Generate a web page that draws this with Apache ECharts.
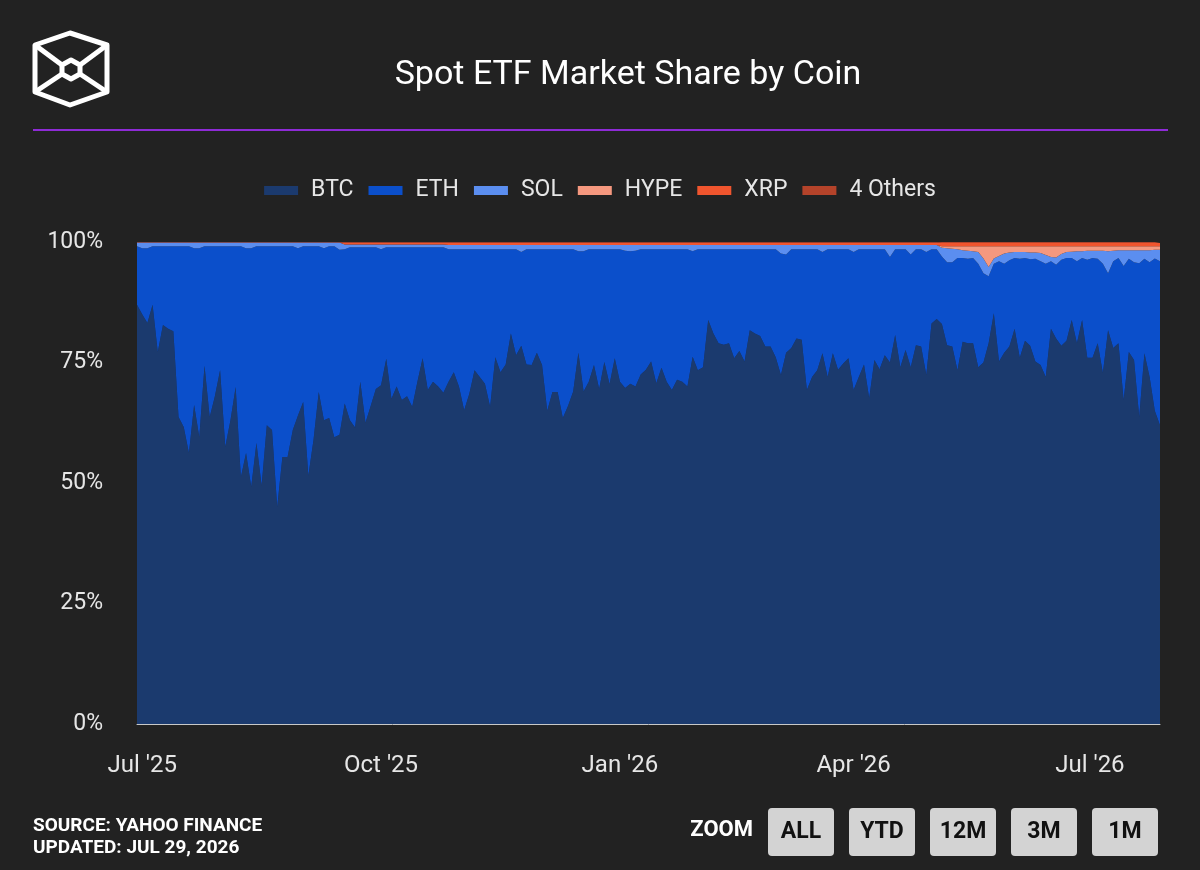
<!DOCTYPE html>
<html>
<head>
<meta charset="utf-8">
<title>Spot ETF Market Share by Coin</title>
<script src="https://cdn.jsdelivr.net/npm/echarts@6/dist/echarts.min.js"></script>
<style>
  html, body { margin: 0; padding: 0; background: #222222; }
  #chart { width: 1200px; height: 870px; }
</style>
</head>
<body>
<div id="chart"></div>
<script>
// one reading every 2 days
const dates = [
  '2025-06-29',
  '2025-07-01','2025-07-03','2025-07-05','2025-07-07','2025-07-09','2025-07-11','2025-07-13','2025-07-15','2025-07-17','2025-07-19','2025-07-21','2025-07-23','2025-07-25','2025-07-27','2025-07-29','2025-07-31',
  '2025-08-02','2025-08-04','2025-08-06','2025-08-08','2025-08-10','2025-08-12','2025-08-14','2025-08-16','2025-08-18','2025-08-20','2025-08-22','2025-08-24','2025-08-26','2025-08-28','2025-08-30',
  '2025-09-01','2025-09-03','2025-09-05','2025-09-07','2025-09-09','2025-09-11','2025-09-13','2025-09-15','2025-09-17','2025-09-19','2025-09-21','2025-09-23','2025-09-25','2025-09-27','2025-09-29',
  '2025-10-01','2025-10-03','2025-10-05','2025-10-07','2025-10-09','2025-10-11','2025-10-13','2025-10-15','2025-10-17','2025-10-19','2025-10-21','2025-10-23','2025-10-25','2025-10-27','2025-10-29','2025-10-31',
  '2025-11-02','2025-11-04','2025-11-06','2025-11-08','2025-11-10','2025-11-12','2025-11-14','2025-11-16','2025-11-18','2025-11-20','2025-11-22','2025-11-24','2025-11-26','2025-11-28','2025-11-30',
  '2025-12-02','2025-12-04','2025-12-06','2025-12-08','2025-12-10','2025-12-12','2025-12-14','2025-12-16','2025-12-18','2025-12-20','2025-12-22','2025-12-24','2025-12-26','2025-12-28','2025-12-30',
  '2026-01-01','2026-01-03','2026-01-05','2026-01-07','2026-01-09','2026-01-11','2026-01-13','2026-01-15','2026-01-17','2026-01-19','2026-01-21','2026-01-23','2026-01-25','2026-01-27','2026-01-29','2026-01-31',
  '2026-02-02','2026-02-04','2026-02-06','2026-02-08','2026-02-10','2026-02-12','2026-02-14','2026-02-16','2026-02-18','2026-02-20','2026-02-22','2026-02-24','2026-02-26','2026-02-28',
  '2026-03-02','2026-03-04','2026-03-06','2026-03-08','2026-03-10','2026-03-12','2026-03-14','2026-03-16','2026-03-18','2026-03-20','2026-03-22','2026-03-24','2026-03-26','2026-03-28','2026-03-30',
  '2026-04-01','2026-04-03','2026-04-05','2026-04-07','2026-04-09','2026-04-11','2026-04-13','2026-04-15','2026-04-17','2026-04-19','2026-04-21','2026-04-23','2026-04-25','2026-04-27','2026-04-29',
  '2026-05-01','2026-05-03','2026-05-05','2026-05-07','2026-05-09','2026-05-11','2026-05-13','2026-05-15','2026-05-17','2026-05-19','2026-05-21','2026-05-23','2026-05-25','2026-05-27','2026-05-29','2026-05-31',
  '2026-06-02','2026-06-04','2026-06-06','2026-06-08','2026-06-10','2026-06-12','2026-06-14','2026-06-16','2026-06-18','2026-06-20','2026-06-22','2026-06-24','2026-06-26','2026-06-28','2026-06-30',
  '2026-07-02','2026-07-04','2026-07-06','2026-07-08','2026-07-10','2026-07-12','2026-07-14','2026-07-16','2026-07-18','2026-07-20','2026-07-22','2026-07-24','2026-07-26','2026-07-28'
]

// market share in %
const btc = [
  87, 85, 83.2, 87, 77.2, 82.8, 82, 81.5, 63.7, 61.6,
  56.2, 66.2, 59.5, 74.3, 63.7, 68, 73.4, 57.5, 63, 69.9,
  51.2, 56.2, 49.2, 58.3, 49.5, 62, 61, 45, 55.4, 55.4,
  61, 64, 66.8, 51.5, 59, 68.9, 63, 63.5, 59.5, 60,
  66.5, 63, 61.5, 71, 62.5, 66, 69.5, 70.3, 75.8, 67.5,
  70, 67.2, 68, 65.8, 71, 75.9, 69.3, 71, 70, 68.7,
  71, 73, 70, 65.1, 68.5, 73.4, 72, 70.6, 65.8, 76.1,
  73, 74.6, 81, 76.5, 78.5, 74.6, 74.5, 77, 74.5, 65,
  68.9, 68.9, 63.5, 66, 69, 77, 69, 71, 74.5, 69.5,
  75.1, 70.5, 75.9, 71, 69.7, 70.6, 70, 72.5, 73.5, 75.2,
  70.7, 73.9, 71, 69.3, 71.4, 71, 70, 76.2, 73.4, 74,
  83.8, 81, 79, 78.7, 79, 75.9, 77.4, 75.2, 81.7, 81,
  80.5, 78.3, 78.3, 76.1, 72.4, 77, 78, 80, 79.7, 69.3,
  72, 73.4, 76.9, 72, 76.9, 73.5, 74.8, 75.9, 69.3, 72,
  74.6, 67.6, 75.5, 73.6, 76.5, 75, 80.7, 74, 77.6, 74,
  78.6, 78.3, 72.4, 83.1, 84, 83, 78.6, 78.3, 73.4, 79.3,
  79, 79, 74, 75, 79, 85.2, 75.2, 77, 78.3, 82,
  76, 79.5, 78.5, 75.2, 74.5, 72, 82, 80, 78.5, 79.5,
  83.8, 79, 83.8, 76, 76, 79, 72.8, 81.7, 78, 79,
  67.2, 77.2, 75.5, 63.7, 76.9, 72, 65, 62
]
const eth = [
  12.1, 13.7, 15.5, 12.1, 21.9, 16.3, 17.1, 17.6, 35.4, 37.5,
  42.9, 32.5, 39.2, 24.8, 35.4, 31.1, 25.7, 41.6, 36.1, 29.2,
  47.9, 42.5, 49.5, 40.8, 49.6, 37.1, 38.1, 54.1, 43.7, 43.7,
  38.1, 34.7, 32.3, 47.6, 40.1, 30.2, 35.7, 35.6, 39.6, 38.4,
  32.0, 35.9, 37.4, 27.9, 36.4, 32.9, 29.4, 28.2, 23.1, 31.4,
  28.9, 31.7, 30.9, 33.1, 27.9, 23.0, 29.6, 27.9, 28.9, 30.2,
  27.5, 25.5, 28.5, 33.4, 30.0, 25.1, 26.5, 27.9, 32.7, 22.4,
  25.5, 23.9, 17.5, 22.0, 19.4, 23.9, 24.0, 21.5, 24.0, 33.5,
  29.6, 29.6, 35.0, 32.5, 29.5, 21.1, 29.1, 27.5, 24.0, 29.0,
  23.4, 28.0, 22.6, 27.5, 28.5, 27.5, 28.2, 26.0, 25.0, 23.3,
  27.8, 24.6, 27.5, 29.2, 27.1, 27.5, 28.5, 21.9, 25.1, 24.5,
  14.7, 17.5, 19.5, 19.8, 19.5, 22.6, 21.1, 23.3, 16.8, 17.5,
  18.0, 20.2, 20.2, 22.4, 25.2, 20.4, 20.5, 18.5, 18.8, 29.2,
  26.5, 25.1, 21.0, 26.5, 21.6, 25.0, 23.7, 22.6, 28.6, 26.5,
  23.9, 30.9, 23.0, 24.9, 22.0, 21.9, 17.8, 24.5, 20.9, 23.4,
  19.9, 20.2, 25.5, 15.4, 14.5, 14.0, 17.2, 17.5, 23.3, 17.4,
  17.5, 17.7, 21.5, 18.5, 13.9, 10.3, 20.8, 18.5, 17.9, 14.7,
  20.5, 17.2, 17.9, 21.3, 21.5, 23.5, 14.0, 15.3, 17.8, 17.2,
  12.9, 17.0, 12.9, 20.3, 20.7, 17.5, 22.7, 11.8, 18.0, 17.7,
  27.8, 19.3, 20.3, 31.9, 19.6, 23.8, 31.6, 34.0
]
const sol = [
  0.8, 1.2, 1.2, 0.8, 0.8, 0.8, 0.8, 0.8, 0.8, 0.8,
  0.8, 1.2, 1.2, 0.8, 0.8, 0.8, 0.8, 0.8, 0.8, 0.8,
  0.8, 1.2, 1.2, 0.8, 0.8, 0.8, 0.8, 0.8, 0.8, 0.8,
  0.8, 1.2, 0.8, 0.8, 0.8, 0.8, 1.2, 0.8, 0.8, 1.5,
  1.0, 0.6, 0.6, 0.6, 0.6, 0.6, 0.6, 1.0, 0.6, 0.6,
  0.6, 0.6, 0.6, 0.6, 0.6, 0.6, 0.6, 0.6, 0.6, 0.6,
  0.9, 0.9, 0.9, 0.9, 0.9, 0.9, 0.9, 0.9, 0.9, 0.9,
  0.9, 0.9, 0.9, 0.9, 1.5, 0.9, 0.9, 0.9, 0.9, 0.9,
  0.9, 0.9, 0.9, 0.9, 0.9, 1.3, 1.3, 0.9, 0.9, 0.9,
  0.9, 0.9, 0.9, 0.9, 1.2, 1.3, 1.2, 0.9, 0.9, 0.9,
  0.9, 0.9, 0.9, 0.9, 0.9, 0.9, 0.9, 1.3, 0.9, 0.9,
  0.9, 0.9, 0.9, 0.9, 0.9, 0.9, 0.9, 0.9, 0.9, 0.9,
  0.9, 0.9, 0.9, 0.9, 1.8, 2.0, 0.9, 0.9, 0.9, 0.9,
  0.9, 0.9, 1.5, 0.9, 0.9, 0.9, 0.9, 0.9, 1.5, 0.9,
  0.9, 0.9, 0.9, 0.9, 0.9, 2.5, 0.9, 0.9, 0.9, 2.0,
  0.9, 0.9, 1.5, 0.9, 0.9, 1.8, 2.9, 2.8, 1.8, 1.6,
  1.7, 1.4, 2.4, 3.1, 1.9, 1.1, 1.1, 2.1, 1.6, 1.2,
  1.4, 1.2, 1.4, 1.3, 1.7, 1.8, 0.9, 1.5, 1.2, 1.2,
  1.3, 2.1, 1.4, 1.9, 1.5, 1.7, 2.7, 4.6, 2.2, 1.6,
  3.3, 1.8, 2.5, 2.7, 1.8, 2.5, 1.8, 2.4
]
const hype = [
  0, 0, 0, 0, 0, 0, 0, 0, 0, 0,
  0, 0, 0, 0, 0, 0, 0, 0, 0, 0,
  0, 0, 0, 0, 0, 0, 0, 0, 0, 0,
  0, 0, 0, 0, 0, 0, 0, 0, 0, 0,
  0, 0, 0, 0, 0, 0, 0, 0, 0, 0,
  0, 0, 0, 0, 0, 0, 0, 0, 0, 0,
  0, 0, 0, 0, 0, 0, 0, 0, 0, 0,
  0, 0, 0, 0, 0, 0, 0, 0, 0, 0,
  0, 0, 0, 0, 0, 0, 0, 0, 0, 0,
  0, 0, 0, 0, 0, 0, 0, 0, 0, 0,
  0, 0, 0, 0, 0, 0, 0, 0, 0, 0,
  0, 0, 0, 0, 0, 0, 0, 0, 0, 0,
  0, 0, 0, 0, 0, 0, 0, 0, 0, 0,
  0, 0, 0, 0, 0, 0, 0, 0, 0, 0,
  0, 0, 0, 0, 0, 0, 0, 0, 0, 0,
  0, 0, 0, 0, 0, 0.3, 0.4, 0.5, 0.6, 0.8,
  0.9, 1.0, 1.2, 2.5, 4.3, 2.5, 2.0, 1.5, 1.3, 1.2,
  1.2, 1.2, 1.3, 1.3, 1.4, 1.8, 2.2, 2.3, 1.6, 1.2,
  1.1, 1.0, 1.0, 0.9, 0.9, 0.9, 0.9, 1.0, 0.9, 0.8,
  0.8, 0.8, 0.8, 0.8, 0.8, 0.8, 0.7, 0.7
]
const xrp = [
  0, 0, 0, 0, 0, 0, 0, 0, 0, 0,
  0, 0, 0, 0, 0, 0, 0, 0, 0, 0,
  0, 0, 0, 0, 0, 0, 0, 0, 0, 0,
  0, 0, 0, 0, 0, 0, 0, 0, 0, 0,
  0.4, 0.4, 0.4, 0.4, 0.4, 0.4, 0.4, 0.4, 0.4, 0.4,
  0.4, 0.4, 0.4, 0.4, 0.4, 0.4, 0.4, 0.4, 0.4, 0.4,
  0.5, 0.5, 0.5, 0.5, 0.5, 0.5, 0.5, 0.5, 0.5, 0.5,
  0.5, 0.5, 0.5, 0.5, 0.5, 0.5, 0.5, 0.5, 0.5, 0.5,
  0.5, 0.5, 0.5, 0.5, 0.5, 0.5, 0.5, 0.5, 0.5, 0.5,
  0.5, 0.5, 0.5, 0.5, 0.5, 0.5, 0.5, 0.5, 0.5, 0.5,
  0.5, 0.5, 0.5, 0.5, 0.5, 0.5, 0.5, 0.5, 0.5, 0.5,
  0.5, 0.5, 0.5, 0.5, 0.5, 0.5, 0.5, 0.5, 0.5, 0.5,
  0.5, 0.5, 0.5, 0.5, 0.5, 0.5, 0.5, 0.5, 0.5, 0.5,
  0.5, 0.5, 0.5, 0.5, 0.5, 0.5, 0.5, 0.5, 0.5, 0.5,
  0.5, 0.5, 0.5, 0.5, 0.5, 0.5, 0.5, 0.5, 0.5, 0.5,
  0.5, 0.5, 0.5, 0.5, 0.5, 0.7, 0.7, 0.7, 0.7, 0.7,
  0.7, 0.7, 0.7, 0.7, 0.7, 0.7, 0.7, 0.7, 0.7, 0.7,
  0.7, 0.7, 0.7, 0.7, 0.7, 0.7, 0.7, 0.7, 0.7, 0.7,
  0.7, 0.7, 0.7, 0.7, 0.7, 0.7, 0.7, 0.7, 0.7, 0.7,
  0.7, 0.7, 0.7, 0.7, 0.7, 0.7, 0.7, 0.7
]
const others = [
  0.1, 0.1, 0.1, 0.1, 0.1, 0.1, 0.1, 0.1, 0.1, 0.1,
  0.1, 0.1, 0.1, 0.1, 0.1, 0.1, 0.1, 0.1, 0.1, 0.1,
  0.1, 0.1, 0.1, 0.1, 0.1, 0.1, 0.1, 0.1, 0.1, 0.1,
  0.1, 0.1, 0.1, 0.1, 0.1, 0.1, 0.1, 0.1, 0.1, 0.1,
  0.1, 0.1, 0.1, 0.1, 0.1, 0.1, 0.1, 0.1, 0.1, 0.1,
  0.1, 0.1, 0.1, 0.1, 0.1, 0.1, 0.1, 0.1, 0.1, 0.1,
  0.1, 0.1, 0.1, 0.1, 0.1, 0.1, 0.1, 0.1, 0.1, 0.1,
  0.1, 0.1, 0.1, 0.1, 0.1, 0.1, 0.1, 0.1, 0.1, 0.1,
  0.1, 0.1, 0.1, 0.1, 0.1, 0.1, 0.1, 0.1, 0.1, 0.1,
  0.1, 0.1, 0.1, 0.1, 0.1, 0.1, 0.1, 0.1, 0.1, 0.1,
  0.1, 0.1, 0.1, 0.1, 0.1, 0.1, 0.1, 0.1, 0.1, 0.1,
  0.1, 0.1, 0.1, 0.1, 0.1, 0.1, 0.1, 0.1, 0.1, 0.1,
  0.1, 0.1, 0.1, 0.1, 0.1, 0.1, 0.1, 0.1, 0.1, 0.1,
  0.1, 0.1, 0.1, 0.1, 0.1, 0.1, 0.1, 0.1, 0.1, 0.1,
  0.1, 0.1, 0.1, 0.1, 0.1, 0.1, 0.1, 0.1, 0.1, 0.1,
  0.1, 0.1, 0.1, 0.1, 0.1, 0.2, 0.2, 0.2, 0.2, 0.2,
  0.2, 0.2, 0.2, 0.2, 0.2, 0.2, 0.2, 0.2, 0.2, 0.2,
  0.2, 0.2, 0.2, 0.2, 0.2, 0.2, 0.2, 0.2, 0.2, 0.2,
  0.2, 0.2, 0.2, 0.2, 0.2, 0.2, 0.2, 0.2, 0.2, 0.2,
  0.2, 0.2, 0.2, 0.2, 0.2, 0.2, 0.2, 0.2
]

const seriesNames = ['BTC', 'ETH', 'SOL', 'HYPE', 'XRP', '4 Others']
const seriesValues = [btc, eth, sol, hype, xrp, others]
const colors = ['#1b3a6e', '#0b4fcb', '#5b8ef0', '#f5987f', '#f0552e', '#b4432a']

const tickDates = ['2025-07-01', '2025-10-01', '2026-01-01', '2026-04-01', '2026-07-01']
const tickLabels = ["Jul '25", "Oct '25", "Jan '26", "Apr '26", "Jul '26"]
const zoomButtons = ['ALL', 'YTD', '12M', '3M', '1M']

const FONT = 'Roboto, "Noto Sans", sans-serif'
const DAY = 24 * 3600 * 1000

const chart = echarts.init(document.getElementById('chart'))

const tickTimes = tickDates.map(d => +echarts.time.parse(d))

// logo + header line + footer are plain graphics
const graphics = [
    {
        type: 'polygon',
        shape: { points: [[70, 33], [107, 45], [107, 92], [70, 105], [35, 92], [35, 45]] },
        style: { fill: 'none', stroke: '#fff', lineWidth: 5, lineJoin: 'round' }
    },
    {
        type: 'polygon',
        shape: { points: [[71, 60], [80, 65], [80, 74], [71, 79], [62, 74], [62, 65]] },
        style: { fill: 'none', stroke: '#fff', lineWidth: 5, lineJoin: 'round' }
    },
    { type: 'line', shape: { x1: 35, y1: 45, x2: 62, y2: 65 }, style: { stroke: '#fff', lineWidth: 5 } },
    { type: 'line', shape: { x1: 107, y1: 45, x2: 80, y2: 65 }, style: { stroke: '#fff', lineWidth: 5 } },
    { type: 'line', shape: { x1: 35, y1: 92, x2: 62, y2: 74 }, style: { stroke: '#fff', lineWidth: 5 } },
    { type: 'line', shape: { x1: 107, y1: 92, x2: 80, y2: 74 }, style: { stroke: '#fff', lineWidth: 5 } },
    {
        type: 'text', x: 628, y: 75,
        style: { text: 'Spot ETF Market Share by Coin', fill: '#fff', font: '34px ' + FONT, textAlign: 'center', textVerticalAlign: 'middle' }
    },
    { type: 'line', shape: { x1: 33, y1: 130, x2: 1168, y2: 130 }, style: { stroke: '#8e2bd6', lineWidth: 2 } },
    {
        type: 'text', x: 33, y: 826,
        style: { text: 'SOURCE: YAHOO FINANCE', fill: '#fff', font: 'bold 19px ' + FONT, textVerticalAlign: 'middle' }
    },
    {
        type: 'text', x: 33, y: 848,
        style: { text: 'UPDATED: JUL 29, 2026', fill: '#fff', font: 'bold 19px ' + FONT, textVerticalAlign: 'middle' }
    },
    {
        type: 'text', x: 753, y: 830,
        style: { text: 'ZOOM', fill: '#fff', font: 'bold 22px ' + FONT, textAlign: 'right', textVerticalAlign: 'middle' }
    }
]
zoomButtons.forEach((label, i) => {
    const x = 768 + i * 81
    graphics.push({
        type: 'rect',
        shape: { x: x, y: 808, width: 66, height: 48, r: 4 },
        style: { fill: '#d3d3d3' }
    })
    graphics.push({
        type: 'text', x: x + 33, y: 832,
        style: { text: label, fill: '#111', font: 'bold 23px ' + FONT, textAlign: 'center', textVerticalAlign: 'middle' }
    })
})

const option = {
    backgroundColor: '#222222',
    animation: false,
    textStyle: { fontFamily: FONT },
    color: colors,
    legend: {
        top: 174,
        left: 'center',
        icon: 'rect',
        itemWidth: 34,
        itemHeight: 9,
        itemGap: 15,
        data: seriesNames,
        textStyle: { color: '#e6e6e6', fontSize: 23, padding: [0, 0, 0, 8] }
    },
    grid: {
        left: 137,
        right: 40,
        top: 242,
        bottom: 146
    },
    xAxis: {
        type: 'time',
        min: 'dataMin',
        max: 'dataMax',
        minInterval: 28 * DAY,
        maxInterval: 31 * DAY,
        axisLine: { show: true, lineStyle: { color: '#c8c8c8', width: 1 } },
        axisTick: { show: false },
        splitLine: { show: false },
        axisLabel: {
            color: '#e6e6e6',
            fontSize: 24,
            margin: 30,
            hideOverlap: false,
            formatter: function (value) {
                const idx = tickTimes.findIndex(t => Math.abs(t - value) < DAY / 2)
                return idx >= 0 ? tickLabels[idx] : ''
            }
        }
    },
    yAxis: {
        type: 'value',
        min: 0,
        max: 100,
        interval: 25,
        axisLine: { show: false },
        axisTick: { show: false },
        splitLine: { show: false },
        axisLabel: {
            color: '#e6e6e6',
            fontSize: 23,
            margin: 34,
            formatter: '{value}%'
        }
    },
    series: seriesNames.map((name, k) => ({
        name: name,
        type: 'line',
        stack: 'share',
        showSymbol: false,
        symbol: 'none',
        lineStyle: { width: 0 },
        areaStyle: { color: colors[k], opacity: 1 },
        itemStyle: { color: colors[k] },
        emphasis: { disabled: true },
        data: dates.map((d, i) => [d, seriesValues[k][i]])
    })),
    graphic: graphics
}

option && chart.setOption(option)
</script>
</body>
</html>
